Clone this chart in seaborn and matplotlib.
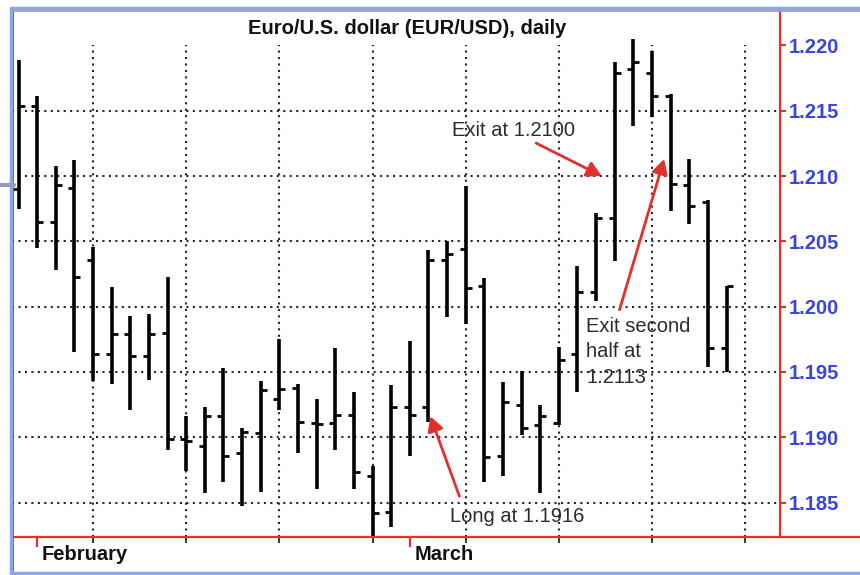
import numpy as np
import pandas as pd
import matplotlib
matplotlib.use("Agg")
import matplotlib.pyplot as plt
import seaborn as sns
from matplotlib.lines import Line2D

# Daily EUR/USD bars, 31 Jan - 24 Mar 2006
dates = [
    "2006-01-31", "2006-02-01", "2006-02-02", "2006-02-03", "2006-02-06",
    "2006-02-07", "2006-02-08", "2006-02-09", "2006-02-10", "2006-02-13",
    "2006-02-14", "2006-02-15", "2006-02-16", "2006-02-17", "2006-02-20",
    "2006-02-21", "2006-02-22", "2006-02-23", "2006-02-24", "2006-02-27",
    "2006-02-28", "2006-03-01", "2006-03-02", "2006-03-03", "2006-03-06",
    "2006-03-07", "2006-03-08", "2006-03-09", "2006-03-10", "2006-03-13",
    "2006-03-14", "2006-03-15", "2006-03-16", "2006-03-17", "2006-03-20",
    "2006-03-21", "2006-03-22", "2006-03-23", "2006-03-24",
]
opens = [
    1.2090, 1.2154, 1.2065, 1.2091, 1.2036, 1.1964, 1.1979, 1.1962, 1.1980, 1.1899,
    1.1893, 1.1916, 1.1888, 1.1903, 1.1929, 1.1938, 1.1911, 1.1911, 1.1917, 1.1870,
    1.1843, 1.1923, 1.1923, 1.2036, 1.2044, 1.2016, 1.1886, 1.1925, 1.1909, 1.1911,
    1.1964, 1.2011, 1.2068, 1.2182, 1.2179, 1.2161, 1.2093, 1.2080, 1.1968,
]
highs = [
    1.2189, 1.2161, 1.2108, 1.2112, 1.2046, 1.2015, 1.1993, 1.1994, 1.2023, 1.1916,
    1.1923, 1.1953, 1.1907, 1.1943, 1.1975, 1.1941, 1.1929, 1.1968, 1.1935, 1.1878,
    1.1940, 1.1974, 1.2043, 1.2050, 1.2092, 1.2022, 1.1942, 1.1951, 1.1925, 1.1969,
    1.2031, 1.2072, 1.2187, 1.2205, 1.2196, 1.2163, 1.2113, 1.2082, 1.2016,
]
lows = [
    1.2075, 1.2045, 1.2028, 1.1965, 1.1943, 1.1941, 1.1921, 1.1944, 1.1890, 1.1874,
    1.1857, 1.1866, 1.1847, 1.1858, 1.1921, 1.1888, 1.1860, 1.1890, 1.1860, 1.1823,
    1.1831, 1.1886, 1.1912, 1.1992, 1.1987, 1.1866, 1.1870, 1.1902, 1.1857, 1.1909,
    1.1935, 1.2004, 1.2035, 1.2138, 1.2145, 1.2073, 1.2063, 1.1954, 1.1950,
]
closes = [
    1.2154, 1.2065, 1.2093, 1.2023, 1.1964, 1.1979, 1.1962, 1.1979, 1.1899, 1.1897,
    1.1916, 1.1886, 1.1904, 1.1936, 1.1937, 1.1912, 1.1910, 1.1917, 1.1873, 1.1842,
    1.1923, 1.1917, 1.2036, 1.2040, 1.2014, 1.1885, 1.1927, 1.1907, 1.1916, 1.1959,
    1.2011, 1.2068, 1.2179, 1.2187, 1.2161, 1.2094, 1.2077, 1.1968, 1.2016,
]
price_ticks = [1.185, 1.190, 1.195, 1.200, 1.205, 1.210, 1.215, 1.220]
title = "Euro/U.S. dollar (EUR/USD), daily"

# Trade annotations
entry_text, entry_price = "Long at 1.1916", 1.1916
exit1_text, exit1_price = "Exit at 1.2100", 1.2100
exit2_text, exit2_price = "Exit second\nhalf at\n1.2113", 1.2113

RED = "#e4302c"
BLUE = "#3a44de"
INK = "#2b2b2b"

sns.set_style("white")
plt.rcParams["font.family"] = ["Liberation Sans", "DejaVu Sans"]

W, H = 860, 575
fig = plt.figure(figsize=(W / 100, H / 100), dpi=100)
ax = fig.add_axes([12 / W, 1 - 537 / H, 768 / W, 525 / H])

df = pd.DataFrame({
    "date": pd.to_datetime(dates),
    "open": opens, "high": highs, "low": lows, "close": closes,
})
df["day"] = np.arange(len(df))

ylo, yhi = 1.18236, 1.22256
xlo, xhi = -0.35, 40.87

# Weekly dotted grid (Mondays) and price grid below the top level
grid_kw = dict(color="#262626", linewidth=1.5, linestyle=(0, (1, 2.1)), zorder=0)
for p in price_ticks[:-1]:
    ax.axhline(p, **grid_kw)
first_monday = int(df.loc[df["date"].dt.dayofweek == 0, "day"].iloc[0])
week_lines = np.arange(first_monday, xhi, 5)
top_frac = (price_ticks[-1] - ylo) / (yhi - ylo)
for d in week_lines:
    ax.axvline(d, ymax=top_frac, **grid_kw)

# High-low range of each day
ranges = df.melt(id_vars="day", value_vars=["low", "high"], value_name="price")
sns.lineplot(data=ranges, x="day", y="price", units="day", estimator=None,
             sort=False, color="black", linewidth=2.6, solid_capstyle="butt",
             legend=False, ax=ax, zorder=3)
# Open tick on the left, close tick on the right
sns.scatterplot(data=df, x="day", y="open", marker=0, s=20, color="black",
                edgecolor="black", linewidth=2.0, legend=False, ax=ax, zorder=3)
sns.scatterplot(data=df, x="day", y="close", marker=1, s=20, color="black",
                edgecolor="black", linewidth=2.0, legend=False, ax=ax, zorder=3)

ax.set_xlim(xlo, xhi)
ax.set_ylim(ylo, yhi)
ax.set_xlabel("")
ax.set_ylabel("")

# Price axis on the right
ax.yaxis.tick_right()
ax.set_yticks(price_ticks)
ax.set_yticklabels([f"{p:.3f}" for p in price_ticks], fontweight="bold")
ax.tick_params(axis="y", which="major", color=RED, labelcolor=BLUE, length=4.5,
               width=1.5, pad=1.5, labelsize=14.5, direction="out", right=True)

# Week ticks and month starts on the time axis
month_starts = df.groupby(df["date"].dt.to_period("M"))["day"].min()
month_starts = month_starts[month_starts > 0]
ax.set_xticks(week_lines)
ax.set_xticklabels([])
ax.set_xticks(month_starts.values, minor=True)
ax.tick_params(axis="x", which="major", color="#333333", length=4.5, width=1.4,
               direction="out", bottom=True)
ax.tick_params(axis="x", which="minor", color=RED, length=7.5, width=1.6,
               direction="out", bottom=True)
for period, d in month_starts.items():
    ax.annotate(period.strftime("%B"), xy=(d, 0), xycoords=("data", "axes fraction"),
                xytext=(3.5, -6), textcoords="offset points", ha="left", va="top",
                fontsize=14.5, fontweight="bold", color="#111111")

for side in ["left", "top", "bottom"]:
    ax.spines[side].set_visible(False)
ax.spines["right"].set_color(RED)
ax.spines["right"].set_linewidth(1.6)

ax.text(0.515, 0.969, title, transform=ax.transAxes, ha="center", va="center",
        fontsize=14.5, fontweight="bold", color="#111111")

arrow = dict(arrowstyle="-|>,head_length=0.55,head_width=0.3", color=RED, lw=2.0,
             mutation_scale=16, shrinkB=0)
ax.annotate(exit1_text, xy=(31.3, exit1_price), xytext=(23.27, 1.2135),
            ha="left", va="center", fontsize=14.5, color=INK, zorder=5,
            arrowprops=dict(arrow, relpos=(0.63, 0.0), shrinkA=0))
ax.annotate(exit2_text, xy=(34.65, exit2_price), xytext=(30.46, 1.1992),
            ha="left", va="top", fontsize=14.5, color=INK, linespacing=1.42, zorder=5,
            arrowprops=dict(arrow, relpos=(0.3, 1.0), shrinkA=3))
ax.annotate(entry_text, xy=(22.1, entry_price), xytext=(23.16, 1.1839),
            ha="left", va="center", fontsize=14.5, color=INK, zorder=5,
            arrowprops=dict(arrow, relpos=(0.1, 1.0), shrinkA=6))


# Surrounding frame
def fx(x):
    return x / W


def fy(y):
    return 1 - y / H


fig.add_artist(Line2D([fx(12), fx(860)], [fy(537), fy(537)], color=RED, lw=1.6))
fig.add_artist(Line2D([fx(12.5), fx(12.5)], [fy(11), fy(571)], color="#4a4a4a", lw=1.2))
fig.add_artist(Line2D([fx(12), fx(860)], [fy(11), fy(11)], color="#9a9a9a", lw=1.2))
frame_kw = dict(color="#8ba6e6", lw=2.5)
fig.add_artist(Line2D([fx(10.5), fx(860)], [fy(8), fy(8)], **frame_kw))
fig.add_artist(Line2D([fx(10.5), fx(10.5)], [fy(8), fy(572.5)], **frame_kw))
fig.add_artist(Line2D([fx(10.5), fx(860)], [fy(572.5), fy(572.5)], **frame_kw))
fig.add_artist(Line2D([fx(0), fx(14)], [fy(185), fy(185)], color="#8e9fbc", lw=3))

fig.savefig("out.png", dpi=100, facecolor="white")
